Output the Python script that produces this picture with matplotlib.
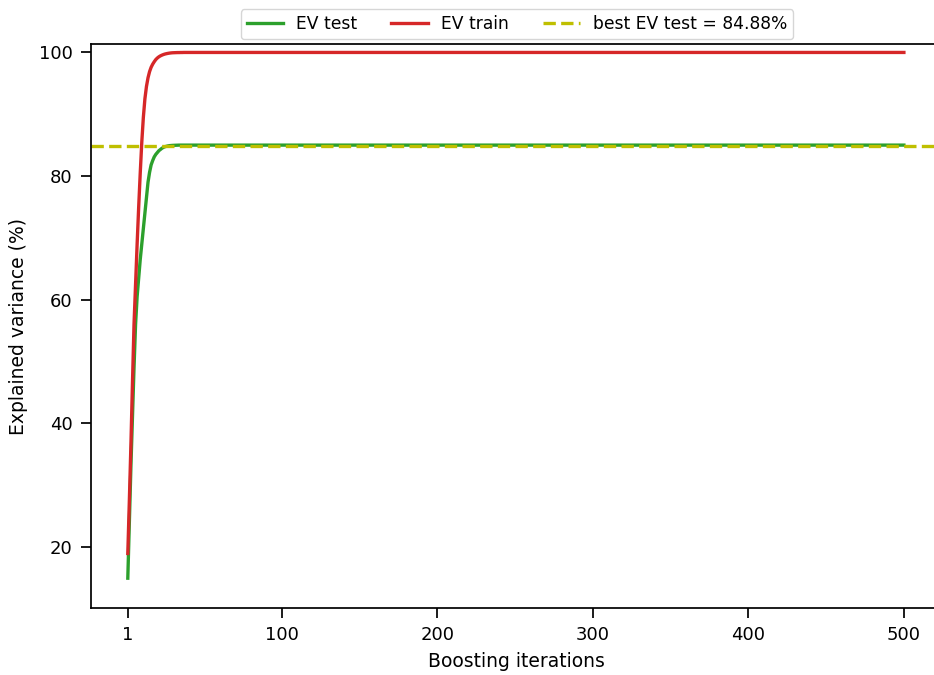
import matplotlib
matplotlib.use('Agg')
import matplotlib.pyplot as plt

# boosting iterations (dense at the start, sparse on the flat tail)
iterations = list(range(1, 41)) + [50, 75, 100, 150, 200, 250, 300, 350, 400, 450, 500]

# explained variance on the train set (%)
ev_train = [18.9, 27.5, 36.5, 46.5, 56.0, 62.5, 69.0, 75.0, 80.5, 85.5,
            89.5, 92.5, 94.5, 95.9, 96.9, 97.6, 98.1, 98.5, 98.85, 99.1,
            99.3, 99.45, 99.57, 99.67, 99.75, 99.81, 99.86, 99.9, 99.93, 99.95,
            99.96, 99.97, 99.98, 99.98, 99.99, 99.99, 100.0, 100.0, 100.0, 100.0,
            100.0, 100.0, 100.0, 100.0, 100.0, 100.0, 100.0, 100.0, 100.0, 100.0, 100.0]

# explained variance on the test set (%)
ev_test = [14.9, 24.0, 33.0, 41.0, 49.0, 56.0, 60.5, 63.5, 66.5, 69.0,
           71.5, 74.0, 76.5, 79.0, 80.6, 81.8, 82.5, 83.1, 83.5, 83.8,
           84.1, 84.3, 84.5, 84.65, 84.75, 84.82, 84.88, 84.92, 84.94, 84.96,
           84.97, 84.98, 84.99, 85.0, 85.0, 85.0, 85.0, 85.0, 85.0, 85.0,
           85.0, 85.0, 85.0, 85.0, 85.0, 85.0, 85.0, 85.0, 85.0, 85.0, 85.0]

best_ev_test = 84.88
xtick_values = [1, 100, 200, 300, 400, 500]

plt.rcParams['font.family'] = ['DejaVu Sans']

fig = plt.figure(figsize=(9.34, 6.75), dpi=100)
ax = fig.add_axes([0.0972, 0.0993, 0.9122, 0.8349])

ax.plot(iterations, ev_test, color='tab:green', lw=2.4, label='EV test')
ax.plot(iterations, ev_train, color='tab:red', lw=2.4, label='EV train')
ax.axhline(best_ev_test, color='y', ls='--', lw=2.4,
           label='best EV test = %.2f%%' % best_ev_test)

ax.set_xlim(-22.8, 525)
ax.set_ylim(10.08, 101.3)
ax.set_xticks(xtick_values)
ax.set_xticklabels([str(v) for v in xtick_values])
ax.set_yticks([20, 40, 60, 80, 100])

ax.set_xlabel('Boosting iterations', fontsize=13.5, labelpad=6)
ax.set_ylabel('Explained variance (%)', fontsize=13.5, labelpad=8)
ax.tick_params(labelsize=13, length=7, width=1.25, pad=6)
for s in ax.spines.values():
    s.set_linewidth(1.25)

ax.legend(loc='lower center', bbox_to_anchor=(0.5, 1.0), ncol=3, fontsize=12.3,
          frameon=True, borderpad=0.35, borderaxespad=0.3, columnspacing=2.0,
          handlelength=2.15, handletextpad=0.75)

fig.savefig('out.png', dpi=100)
